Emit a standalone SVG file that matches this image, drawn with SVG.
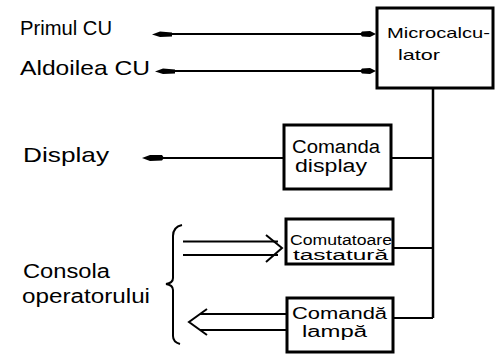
<svg xmlns="http://www.w3.org/2000/svg" width="497" height="354" viewBox="0 0 497 354">
<defs>
<style>
.box{fill:#fff;stroke:#000;stroke-width:3}
.ln{fill:none;stroke:#000;stroke-width:2}
.bus{fill:none;stroke:#000;stroke-width:2.5}
.lbl{font-family:"Liberation Sans",Arial,sans-serif;font-size:21px;fill:#000}
.bt{font-family:"Liberation Sans",Arial,sans-serif;font-size:15px;fill:#000}
.ah{fill:#000}
</style>
</defs>
<rect width="497" height="354" fill="#fff"/>
<g id="connectors">
<line class="ln" x1="170" y1="34" x2="362" y2="34"/>
<path class="ah" d="M152,34.5 L160,31.5 L172,32.5 L172,36.5 L160,37 Z"/>
<path class="ah" d="M376,34 L370,31 L362,31.5 L360,34 L362,36.5 L370,37 Z"/>
<line class="ln" x1="172" y1="71" x2="362" y2="71"/>
<path class="ah" d="M155,71.5 L163,68.5 L175,69.5 L175,73.5 L163,74 Z"/>
<path class="ah" d="M376,71 L370,68 L362,68.5 L360,71 L362,73.5 L370,74 Z"/>
<line class="ln" x1="158" y1="158" x2="284" y2="158"/>
<path class="ah" d="M142,158 L150,155 L162,155 L164,158 L162,160.5 L150,161 Z"/>
<line class="bus" x1="433" y1="88" x2="433" y2="318"/>
<line class="ln" x1="391" y1="158" x2="433" y2="158"/>
<line class="ln" x1="393" y1="248" x2="433" y2="248"/>
<line class="ln" x1="393" y1="318" x2="433" y2="318"/>
<line class="ln" x1="183" y1="241.5" x2="278" y2="241.5"/>
<line class="ln" x1="183" y1="255" x2="278" y2="255"/>
<path class="ln" d="M266,235 L282,248 L266,262"/>
<line class="ln" x1="200" y1="314" x2="287" y2="314"/>
<line class="ln" x1="200" y1="330" x2="287" y2="330"/>
<path class="ln" d="M207,309 L189,322 L207,335"/>
<path class="ln" d="M182,225 Q173,227 173,236 L173,278 Q173,283 166,284 Q173,285 173,290 L173,336 Q173,342 180,344"/>
</g>
<g id="microcalculator">
<rect class="box" x="377" y="8" width="116" height="80"/>
<text class="bt" x="387" y="38" textLength="103" lengthAdjust="spacingAndGlyphs">Microcalcu-</text>
<text class="bt" x="398" y="60" textLength="42" lengthAdjust="spacingAndGlyphs">lator</text>
</g>
<g id="comanda-display">
<rect class="box" x="284" y="125" width="107" height="64"/>
<text class="bt" x="292" y="153" style="font-size:18px" textLength="88" lengthAdjust="spacingAndGlyphs">Comanda</text>
<text class="bt" x="295" y="172" style="font-size:18px" textLength="72" lengthAdjust="spacingAndGlyphs">display</text>
</g>
<g id="comutatoare-tastatura">
<rect class="box" x="286" y="219" width="107" height="45"/>
<text class="bt" x="290" y="245" style="font-size:14px" textLength="102" lengthAdjust="spacingAndGlyphs">Comutatoare</text>
<text class="bt" x="293" y="260" style="font-size:14px" textLength="95" lengthAdjust="spacingAndGlyphs">tastatură</text>
</g>
<g id="comanda-lampa">
<rect class="box" x="287" y="298" width="106" height="54"/>
<text class="bt" x="292" y="319" style="font-size:16px" textLength="95" lengthAdjust="spacingAndGlyphs">Comandă</text>
<text class="bt" x="302" y="337" style="font-size:16px" textLength="65" lengthAdjust="spacingAndGlyphs">lampă</text>
</g>
<g id="primul-cu">
<text class="lbl" x="20" y="35" textLength="92" lengthAdjust="spacingAndGlyphs">Primul CU</text>
</g>
<g id="aldoilea-cu">
<text class="lbl" x="20" y="75" textLength="130" lengthAdjust="spacingAndGlyphs">Aldoilea CU</text>
</g>
<g id="display">
<text class="lbl" x="23" y="162" textLength="86" lengthAdjust="spacingAndGlyphs">Display</text>
</g>
<g id="consola-operatorului">
<text class="lbl" x="23" y="278" style="font-size:20px" textLength="87" lengthAdjust="spacingAndGlyphs">Consola</text>
<text class="lbl" x="22" y="303" style="font-size:20px" textLength="128" lengthAdjust="spacingAndGlyphs">operatorului</text>
</g>
</svg>
